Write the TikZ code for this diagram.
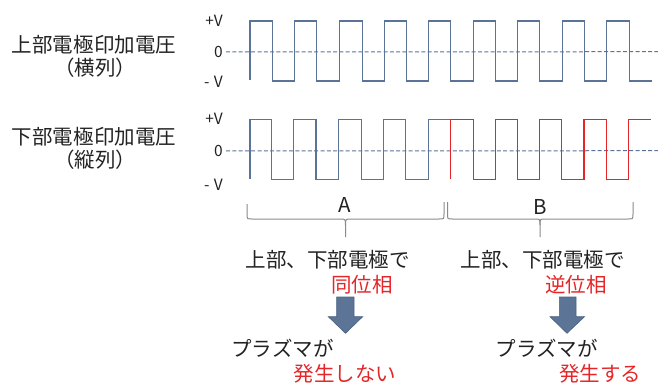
\documentclass[tikz,border=0pt]{standalone}
\usepackage{fontspec}
\setmainfont{Noto Sans CJK JP}
\definecolor{wave}{HTML}{5A7396}
\definecolor{redw}{HTML}{E52629}
\definecolor{txt}{HTML}{222222}
\definecolor{brc}{HTML}{8A8A8A}
\definecolor{arrfill}{HTML}{5C7596}
\definecolor{arredge}{HTML}{4A6282}
\tikzset{
  big/.style={inner sep=0pt, text=txt, font=\fontsize{20.5}{24}\selectfont},
  bigred/.style={big, text=redw},
  lvl/.style={inner sep=0pt, text=txt, font=\fontsize{15.5}{18}\selectfont},
  wv/.style={draw=wave, line width=1.1pt},
  wvred/.style={draw=redw, line width=1.1pt},
  zero/.style={draw=wave, line width=1pt, dash pattern=on 4pt off 2.3pt},
  bracel/.style={draw=brc, line width=1pt},
  blockarrow/.style={fill=arrfill, draw=arredge, line width=0.6pt}
}
\begin{document}
\begin{tikzpicture}[x=1pt,y=-1pt]
\useasboundingbox (0,0) rectangle (658,385);
% left labels
\node[big] (t1) at (94,45) {上部電極印加電圧};
\node[big] (t2) at (95,68) {（横列）};
\node[big] (b1) at (94,137) {下部電極印加電圧};
\node[big] (b2) at (95,160) {（縦列）};
% level labels
\node[lvl, anchor=east] (tp) at (223,21) {+V};
\node[lvl, anchor=east] (t0) at (223,52) {0};
\node[lvl, anchor=east] (tm) at (223,82) {-\;V};
\node[lvl, anchor=east] (bp) at (223,119) {+V};
\node[lvl, anchor=east] (b0) at (223,151) {0};
\node[lvl, anchor=east] (bm) at (223,185) {-\;V};
% zero lines
\coordinate (tz) at (658,51.7);
\coordinate (bz) at (658,150.7);
\draw[zero] (t0.east) ++(3,0) -- (tz);
\draw[zero] (b0.east) ++(3,0) -- (bz);
% top waveform
\draw[wv] (250,80) -- (250,21) -- (272.7,21) -- (272.7,81) -- (294.3,81) -- (294.3,21)
  -- (316.7,21) -- (316.7,81) -- (339.3,81) -- (339.3,21) -- (362.3,21) -- (362.3,81)
  -- (384.3,81) -- (384.3,21) -- (406.3,21) -- (406.3,81) -- (428.3,81) -- (428.3,21)
  -- (450.3,21) -- (450.3,81) -- (473.3,81) -- (473.3,21) -- (495.3,21) -- (495.3,81)
  -- (517.7,81) -- (517.7,21) -- (539.3,21) -- (539.3,81) -- (562.3,81) -- (562.3,21)
  -- (584.3,21) -- (584.3,81) -- (606.7,81) -- (606.7,21) -- (629.3,21) -- (629.3,81)
  -- (651.7,81);
% bottom waveform (blue, in phase)
\draw[wv] (250,179) -- (250,119.3) -- (271.5,119.3) -- (271.5,179.3) -- (293.3,179.3) -- (293.3,119.3)
  -- (316,119.3) -- (316,179.3) -- (338.3,179.3) -- (338.3,119.3) -- (361.3,119.3) -- (361.3,179.3)
  -- (383.3,179.3) -- (383.3,119.3) -- (405.7,119.3) -- (405.7,179.3) -- (428.3,179.3) -- (428.3,119.3)
  -- (450.3,119.3);
% bottom waveform (red, opposite phase)
\draw[wvred] (450.3,179.3) -- (450.3,119.3) -- (473.3,119.3) -- (473.3,179.3) -- (495.7,179.3)
  -- (495.7,119.3) -- (517.3,119.3) -- (517.3,179.3) -- (539.3,179.3) -- (539.3,119.3)
  -- (561.7,119.3) -- (561.7,179.3) -- (584,179.3) -- (584,119.3) -- (606.7,119.3)
  -- (606.7,179.3) -- (628.3,179.3) -- (628.3,119.3) -- (650.7,119.3);
% braces
\draw[bracel] (247,204) -- (247,214) .. controls (247,219) .. (252,219) -- (340,219)
  .. controls (345.5,219) .. (345.5,225) -- (345.5,237);
\draw[bracel] (345.5,225) .. controls (345.5,219) .. (351,219) -- (439,219)
  .. controls (444,219) .. (444,214) -- (444,202);
\draw[bracel] (447.5,202) -- (447.5,214) .. controls (447.5,219) .. (452.5,219) -- (535,219)
  .. controls (540,219) .. (540,225) -- (540,237);
\draw[bracel] (540,225) .. controls (540,219) .. (545,219) -- (628,219)
  .. controls (633,219) .. (633,214) -- (633,202);
\node[big] (la) at (345,205) {A};
\node[big] (lb) at (540,207) {B};
% texts under braces
\node[big] (ta) at (327.5,260) {上部、下部電極で};
\node[bigred] (pa) at (362,285) {同位相};
\node[big] (tb) at (542.5,260) {上部、下部電極で};
\node[bigred] (pb) at (576,285) {逆位相};
% block arrows
\draw[blockarrow] (336.7,297) -- (354,297) -- (354,316.7) -- (362.7,316.7) -- (345.5,333.3)
  -- (328.3,316.7) -- (336.7,316.7) -- cycle;
\draw[blockarrow] (559.3,297) -- (576,297) -- (576,316.7) -- (584.5,316.7) -- (567,333.3)
  -- (550,316.7) -- (559.3,316.7) -- cycle;
% results
\node[big] (ra) at (282.5,348) {プラズマが};
\node[bigred] (na) at (345,374) {発生しない};
\node[big] (rb) at (546.7,348) {プラズマが};
\node[bigred] (nb) at (600,374) {発生する};
\end{tikzpicture}
\end{document}
